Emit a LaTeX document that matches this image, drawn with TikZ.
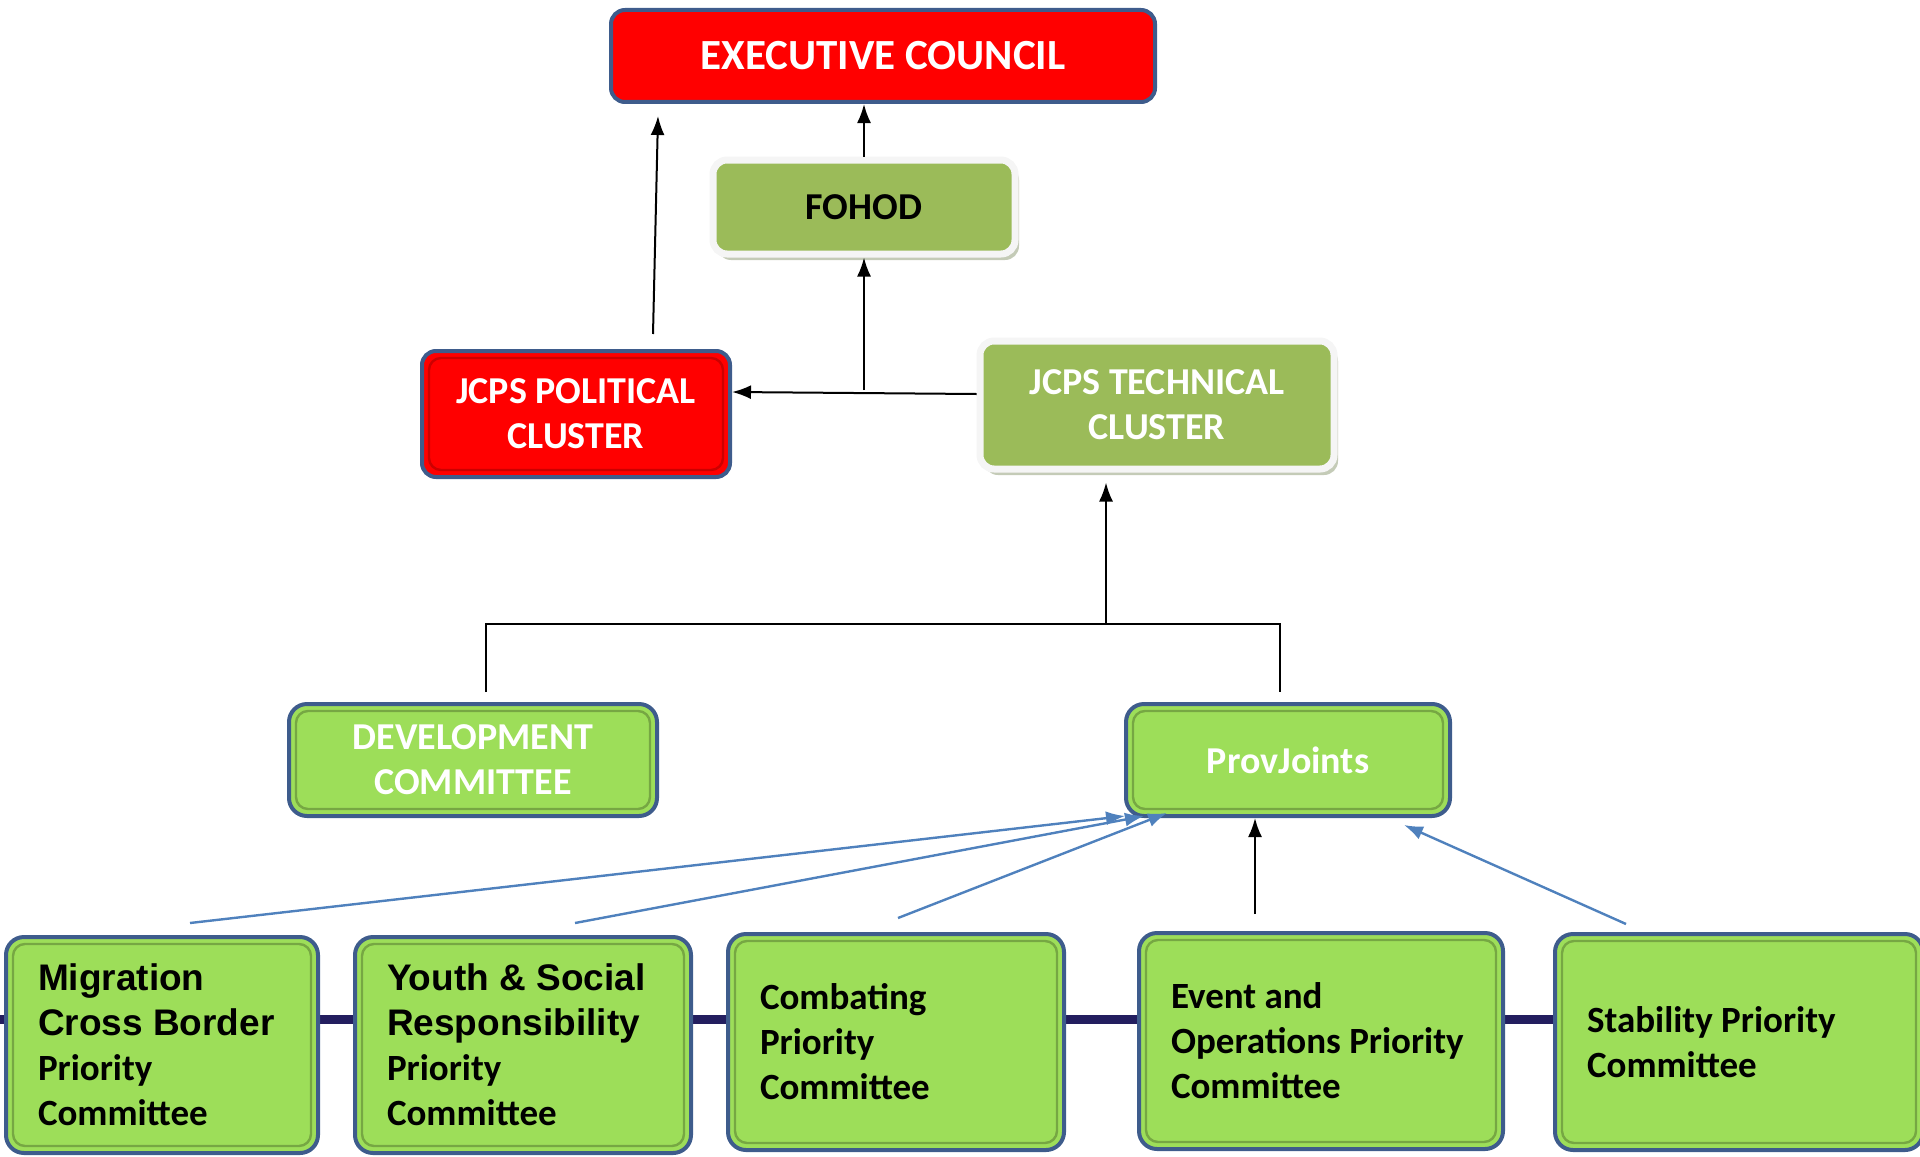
\documentclass[tikz,border=0pt]{standalone}
\usepackage{fontspec}
\setmainfont{Carlito}
\newfontfamily\arialfont{Liberation Sans}
\usetikzlibrary{arrows.meta,shadows}

\definecolor{councilred}{RGB}{255,0,0}
\definecolor{olivegreen}{RGB}{155,187,89}
\definecolor{limegreen}{RGB}{157,222,89}
\definecolor{edgeblue}{RGB}{62,92,140}
\definecolor{linkblue}{RGB}{79,129,189}
\definecolor{bandnavy}{RGB}{35,30,95}

\tikzset{
  bevel/.style={path picture={
    \draw[#1, line width=1.2pt, rounded corners=6pt]
      ([shift={(3.5pt,-3.5pt)}]path picture bounding box.north west) rectangle
      ([shift={(-3.5pt,3.5pt)}]path picture bounding box.south east);}},
  redbox/.style={rectangle, rounded corners=7pt, fill=councilred, draw=edgeblue, line width=2pt,
    text=white, align=flush center, inner sep=0pt, font=\bfseries\fontsize{19}{22.5}\selectfont},
  olivebox/.style={rectangle, rounded corners=7pt, fill=olivegreen, draw=gray!8, line width=3.5pt,
    drop shadow={shadow xshift=2pt, shadow yshift=-3pt, fill=olivegreen!40!gray},
    align=flush center, inner sep=0pt, font=\bfseries\fontsize{19}{22.5}\selectfont},
  limebox/.style={rectangle, rounded corners=9pt, fill=limegreen, draw=edgeblue, line width=2pt,
    bevel=limegreen!75!black, text=white, align=flush center, inner sep=0pt,
    font=\bfseries\fontsize{19}{22.5}\selectfont},
  prioritybox/.style={limebox, text=black, align=flush left, inner xsep=16pt, minimum height=108pt,
    font=\bfseries\fontsize{18.5}{22.5}\selectfont},
  link/.style={-{Latex[length=9.5pt,width=7pt]}, black, line width=1pt},
  feed/.style={-{Latex[length=9.5pt,width=7pt]}, linkblue, line width=1.2pt},
  tree/.style={black, line width=0.8pt}
}

\begin{document}
\begin{tikzpicture}[x=0.5pt,y=-0.5pt]
\useasboundingbox (0,0) rectangle (1920,1156);

% band behind the committees
\draw[bandnavy, line width=4.5pt] (0,1019) -- (1920,1019);

% top level
\node[redbox, font=\bfseries\fontsize{21.5}{22.5}\selectfont, minimum width=272pt, minimum height=46pt] (ec) at (883,56) {EXECUTIVE COUNCIL};
\node[olivebox, text=black, minimum width=151pt, minimum height=47pt] (fohod) at (864,207) {FOHOD};
\node[redbox, bevel=red!80!black, minimum width=154pt, minimum height=63pt] (pol) at (576,414) {JCPS POLITICAL\\CLUSTER};
\node[olivebox, text=white, minimum width=177pt, minimum height=64pt] (tech) at (1157,405) {JCPS TECHNICAL\\CLUSTER};

% middle level
\node[limebox, minimum width=184pt, minimum height=56pt] (dev) at (473,760) {DEVELOPMENT\\COMMITTEE};
\node[limebox, minimum width=162pt, minimum height=56pt] (prov) at (1288,760) {ProvJoints};

% priority committees
\node[prioritybox, text width=124pt] (mig) at (162,1045) {{\arialfont Migration}\\{\arialfont Cross Border}\\Priority\\Committee};
\node[prioritybox, text width=136pt] (youth) at (523,1045) {{\arialfont Youth \& Social}\\{\arialfont Responsibility}\\Priority\\Committee};
\node[prioritybox, text width=136pt] (comb) at (896,1042) {Combating\\Priority\\Committee};
\node[prioritybox, text width=150pt] (event) at (1321,1041) {Event and\\Operations Priority\\Committee};
\node[prioritybox, text width=152pt] (stab) at (1739,1042) {Stability Priority\\Committee};

% links upward
\draw[link] ([xshift=38.5pt,yshift=7.5pt]pol.north) -- ([xshift=-112.5pt,yshift=-6pt]ec.south);
\draw[link] (fohod.north) -- (fohod.north |- ec.south);
\draw[link] ([yshift=5.5pt]tech.west) -- ([yshift=11pt]pol.east);
\coordinate (join) at (864,390);
\draw[link] (join) -- (fohod.south);

% tree to technical cluster
\coordinate (split) at (1106,624);
\draw[link] (split) -- ([xshift=-25.5pt,yshift=-5pt]tech.south);
\draw[tree] ([xshift=6.5pt,yshift=5pt]dev.north) |- (split) -| ([xshift=-4pt,yshift=5pt]prov.north);

% committees to ProvJoints
\draw[feed] ([xshift=14pt,yshift=6pt]mig.north) -- ([xshift=0.5pt,yshift=1pt]prov.south west);
\draw[feed] ([xshift=26pt,yshift=6pt]youth.north) -- ([xshift=10pt,yshift=1pt]prov.south west);
\draw[feed] ([xshift=1pt,yshift=7pt]comb.north) -- ([xshift=21.5pt,yshift=2.5pt]prov.south west);
\draw[link] ([xshift=-33pt,yshift=8.5pt]event.north) -- ([xshift=-16.5pt]prov.south);
\draw[feed] ([xshift=-56.5pt,yshift=4pt]stab.north) -- ([xshift=-24pt,yshift=-3.5pt]prov.south east);

\end{tikzpicture}
\end{document}
